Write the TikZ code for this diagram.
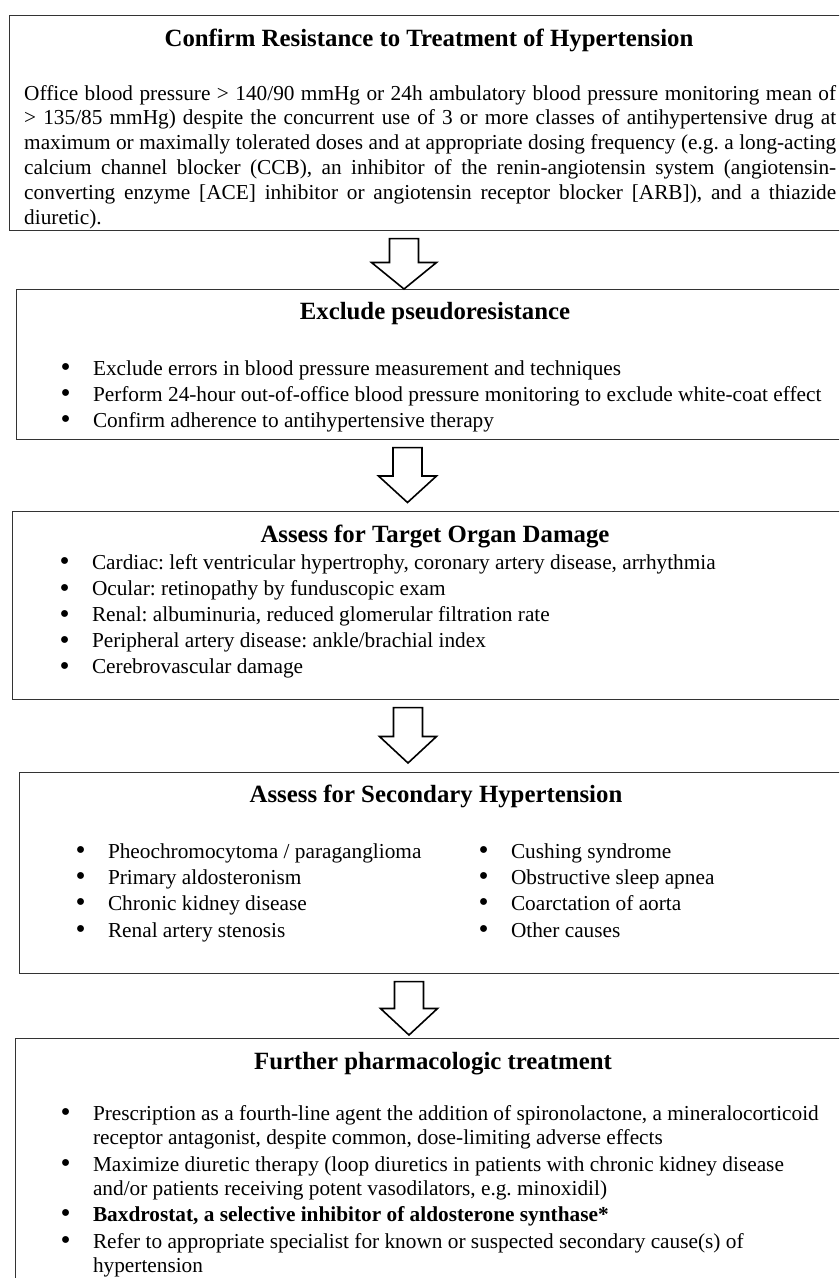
\documentclass[tikz,border=0pt]{standalone}
\usepackage{fontspec}
\setmainfont{Liberation Serif}
\usetikzlibrary{calc}

\newcommand{\bul}{\makebox[32.5pt][l]{\smash{\raisebox{-1.6pt}{\scalebox{1.35}{\textbullet}}}}}
% block arrow: from, to, x, gap above tip, half width of head
\newcommand{\flowarrow}[5]{%
  \draw[block] let \p1=(#1.south), \p2=(#2.north) in
    (#3pt-14.5pt,\y1-7.5pt) -- (#3pt+14.5pt,\y1-7.5pt)
    -- (#3pt+14.5pt,\y2+#4pt+26.5pt) -- (#3pt+#5pt,\y2+#4pt+26.5pt)
    -- (#3pt,\y2+#4pt) -- (#3pt-#5pt,\y2+#4pt+26.5pt)
    -- (#3pt-14.5pt,\y2+#4pt+26.5pt) -- cycle;}

\begin{document}
\begin{tikzpicture}[x=1pt, y=-1pt,
    stage/.style={rectangle, draw=black!80, line width=1.1pt, anchor=north west, inner sep=0pt, minimum width=900pt},
    title/.style={anchor=base, inner sep=0pt, font=\fontsize{24.8pt}{29pt}\selectfont\bfseries},
    item/.style={anchor=base west, inner sep=0pt, font=\fontsize{21.3pt}{24.8pt}\selectfont\frenchspacing},
    block/.style={draw=black, line width=1.6pt, line join=miter, fill=white}
  ]
  \useasboundingbox (0,0) rectangle (839,1278);
  \clip (0,0) rectangle (839,1278);

  % the five stages
  \node[stage, minimum height=215pt] (confirm) at (9,15) {};
  \node[stage, minimum height=150pt] (pseudo) at (16,289) {};
  \node[stage, minimum height=188pt] (organ) at (12,511) {};
  \node[stage, minimum height=201pt] (second) at (19,772) {};
  \node[stage, minimum height=300pt] (treat) at (15,1038) {};

  \flowarrow{confirm}{pseudo}{404}{0}{32.5}
  \flowarrow{pseudo}{organ}{407.5}{8.5}{29}
  \flowarrow{organ}{second}{408}{9}{28.5}
  \flowarrow{second}{treat}{409}{3}{28.5}

  % titles
  \node[title] (confirm-t) at (429,46) {Confirm Resistance to Treatment of Hypertension};
  \node[title] (pseudo-t) at (435,319) {Exclude pseudoresistance};
  \node[title] (organ-t) at (435,542) {Assess for Target Organ Damage};
  \node[title] (second-t) at (436,802) {Assess for Secondary Hypertension};
  \node[title] (treat-t) at (433,1069) {Further pharmacologic treatment};

  \node[item, text width=812pt, align=justify] (confirm-p) at (24,100)
    {Office blood pressure > 140/90 mmHg or 24h ambulatory blood pressure monitoring mean of\linebreak
     > 135/85 mmHg) despite the concurrent use of 3 or more classes of antihypertensive drug at\linebreak
     maximum or maximally tolerated doses and at appropriate dosing frequency (e.g. a long-acting\linebreak
     calcium channel blocker (CCB), an inhibitor of the renin-angiotensin system (angiotensin-\linebreak
     converting enzyme [ACE] inhibitor or angiotensin receptor blocker [ARB]), and a thiazide\linebreak
     diuretic).};

  \node[item] (pseudo-1) at (60.3,375) {\bul Exclude errors in blood pressure measurement and techniques};
  \node[item] (pseudo-2) at (60.3,401) {\bul Perform 24-hour out-of-office blood pressure monitoring to exclude white-coat effect};
  \node[item] (pseudo-3) at (60.3,427) {\bul Confirm adherence to antihypertensive therapy};

  \node[item] (organ-1) at (59.3,569) {\bul Cardiac: left ventricular hypertrophy, coronary artery disease, arrhythmia};
  \node[item] (organ-2) at (59.3,595.5) {\bul Ocular: retinopathy by funduscopic exam};
  \node[item] (organ-3) at (59.3,621.5) {\bul Renal: albuminuria, reduced glomerular filtration rate};
  \node[item] (organ-4) at (59.3,647.5) {\bul Peripheral artery disease: ankle/brachial index};
  \node[item] (organ-5) at (59.3,673.5) {\bul Cerebrovascular damage};

  \node[item] (second-1) at (75.3,858) {\bul Pheochromocytoma / paraganglioma};
  \node[item] (second-2) at (75.3,884) {\bul Primary aldosteronism};
  \node[item] (second-3) at (75.3,910) {\bul Chronic kidney disease};
  \node[item] (second-4) at (75.3,937) {\bul Renal artery stenosis};
  \node[item] (second-5) at (478.3,858) {\bul Cushing syndrome};
  \node[item] (second-6) at (478.3,884) {\bul Obstructive sleep apnea};
  \node[item] (second-7) at (478.3,910) {\bul Coarctation of aorta};
  \node[item] (second-8) at (478.3,937) {\bul Other causes};

  \node[item] (treat-1) at (60.3,1120) {\bul\parbox[t]{740pt}{Prescription as a fourth-line agent the addition of spironolactone, a mineralocorticoid\\
    receptor antagonist, despite common, dose-limiting adverse effects}};
  \node[item] (treat-2) at (60.3,1171) {\bul\parbox[t]{740pt}{Maximize diuretic therapy (loop diuretics in patients with chronic kidney disease\\
    and/or patients receiving potent vasodilators, e.g. minoxidil)}};
  \node[item] (treat-3) at (60.3,1221) {\bul\textbf{Baxdrostat, a selective inhibitor of aldosterone synthase*}};
  \node[item] (treat-4) at (60.3,1248) {\bul\parbox[t]{740pt}{Refer to appropriate specialist for known or suspected secondary cause(s) of\\
    hypertension}};
\end{tikzpicture}
\end{document}
